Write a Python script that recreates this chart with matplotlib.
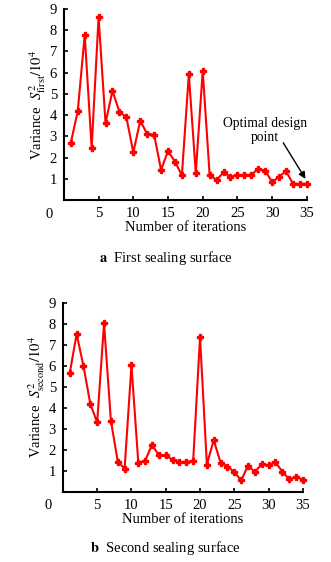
import matplotlib
matplotlib.use("Agg")
import matplotlib.pyplot as plt

plt.rcParams['font.family'] = ['Liberation Serif', 'DejaVu Serif']
plt.rcParams['mathtext.fontset'] = 'stix'

iterations = list(range(1, 36))
first_surface = [2.70, 4.19, 7.78, 2.46, 8.62, 3.62, 5.15, 4.16, 3.90, 2.25,
                 3.74, 3.11, 3.08, 1.42, 2.31, 1.81, 1.17, 5.93, 1.27, 6.09,
                 1.17, 0.95, 1.30, 1.10, 1.17, 1.19, 1.19, 1.47, 1.39, 0.84,
                 1.10, 1.36, 0.77, 0.77, 0.77]
second_surface = [5.64, 7.51, 5.99, 4.18, 3.30, 8.02, 3.39, 1.44, 1.10, 6.02,
                  1.38, 1.48, 2.24, 1.73, 1.73, 1.52, 1.41, 1.43, 1.46, 7.35,
                  1.29, 2.46, 1.38, 1.20, 0.94, 0.54, 1.24, 0.94, 1.31, 1.25,
                  1.41, 0.96, 0.60, 0.70, 0.58]
xticks = [5, 10, 15, 20, 25, 30, 35]
yticks = [1, 2, 3, 4, 5, 6, 7, 8, 9]

FS = 10.5

fig = plt.figure(figsize=(3.31, 5.62), dpi=100)
ax1 = fig.add_axes([0.193, 0.644, 0.734, 0.340])
ax2 = fig.add_axes([0.190, 0.125, 0.725, 0.3364])

def style(ax, data, ylabel):
    ax.plot(iterations, data, color='#ff0000', lw=1.5, marker='P', ms=4.5,
            mec='#ff0000', mfc='#ff0000', clip_on=False, zorder=3)
    ax.set_xlim(0, 35)
    ax.set_ylim(0, 9)
    ax.set_xticks(xticks)
    ax.set_yticks(yticks)
    for s in ['top', 'right']:
        ax.spines[s].set_visible(False)
    for s in ['left', 'bottom']:
        ax.spines[s].set_linewidth(1.5)
    ax.tick_params(direction='in', length=3, width=1.2, labelsize=FS, pad=5)
    ax.text(-0.045, -0.04, '0', transform=ax.transAxes, ha='right', va='top', fontsize=FS)
    ax.set_xlabel('Number of iterations', fontsize=FS, labelpad=1)
    ax.set_ylabel(ylabel, fontsize=FS, labelpad=1)

style(ax1, first_surface, r'Variance  $S^2_{\mathrm{first}}/10^4$')
style(ax2, second_surface, r'Variance  $S^2_{\mathrm{second}}/10^4$')

ax1.text(29.0, 3.30, 'Optimal design\npoint', ha='center', va='center',
         fontsize=9.8, linespacing=1.1)
ax1.annotate('', xy=(34.8, 1.0), xytext=(31.6, 2.7),
             arrowprops=dict(arrowstyle='-|>', color='black', lw=1.0,
                             shrinkA=0, shrinkB=0, mutation_scale=10))

fig.text(0.5, 1 - 258 / 562, r'$\mathbf{a}$  First sealing surface', ha='center', va='center', fontsize=FS)
fig.text(0.5, 1 - 548 / 562, r'$\mathbf{b}$  Second sealing surface', ha='center', va='center', fontsize=FS)

fig.savefig('out.png', dpi=100)
